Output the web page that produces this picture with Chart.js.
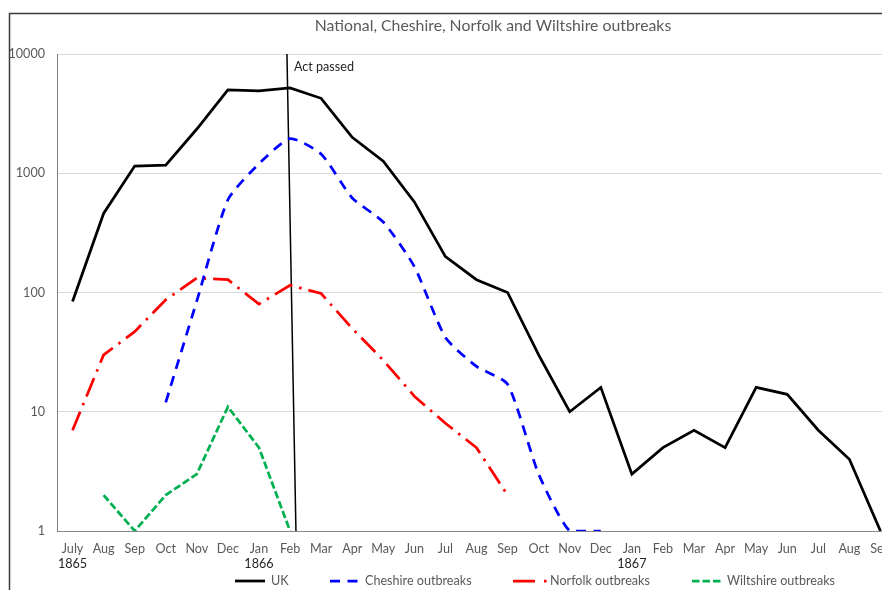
<!DOCTYPE html>
<html><head><meta charset="utf-8">
<script src="https://cdn.jsdelivr.net/npm/chart.js@4.4.1/dist/chart.umd.min.js"></script>
<style>
html,body{margin:0;padding:0;overflow:hidden;background:#fff;width:882px;height:590px}
#wrap{position:absolute;left:0;top:0;width:910px;height:590px}
</style></head><body>
<div id="wrap"><canvas id="c" width="910" height="590"></canvas></div>
<script>
// ---- data ----
const months = ['July','Aug','Sep','Oct','Nov','Dec','Jan','Feb','Mar','Apr','May','Jun','Jul','Aug','Sep','Oct','Nov','Dec','Jan','Feb','Mar','Apr','May','Jun','Jul','Aug','Sep'];
const years = ['1865','','','','','','1866','','','','','','','','','','','','1867','','','','','','','',''];
const ukValues = [84,460,1150,1170,2350,5000,4900,5200,4250,2000,1260,575,200,128,100,30,10,16,3,5,7,5,16,14,7,4,1];
const cheshireValues = [null,null,null,12,85,600,1200,1950,1450,620,390,165,42,24,17,3,1,1,null,null,null,null,null,null,null,null,null];
const norfolkValues = [7,30,47,87,132,128,80,115,98,50,27,13.5,8,5,2,null,null,null,null,null,null,null,null,null,null,null,null];
const wiltshireValues = [null,2,1,2,3,11,5,1,null,null,null,null,null,null,null,null,null,null,null,null,null,null,null,null,null,null,null];
const actLine = [{x:6.9,y:10000},{x:7.19,y:1}];
const yTicks = [1,10,100,1000,10000];
const seriesNames = ['UK','Cheshire outbreaks','Norfolk outbreaks','Wiltshire outbreaks'];
const titleText = 'National, Cheshire, Norfolk and Wiltshire outbreaks';
const actLabel = 'Act passed';

const FONT = 'Lato';
const GRAY = '#595959';
const FS = 12.6;

const extras = {
  id: 'extras',
  afterDraw(chart) {
    const ctx = chart.ctx;
    ctx.save();
    // outer frame
    ctx.strokeStyle = '#3a3a3a';
    ctx.lineWidth = 1.5;
    ctx.strokeRect(9.5, 13.5, 1000, 700);
    // title
    ctx.fillStyle = GRAY;
    ctx.font = '15.8px ' + FONT;
    ctx.textAlign = 'center';
    ctx.textBaseline = 'middle';
    ctx.fillText(titleText, 493, 26);
    // act label
    const xa = chart.scales.xAct;
    ctx.fillStyle = '#262626';
    ctx.font = FS + 'px ' + FONT;
    ctx.textAlign = 'left';
    ctx.fillText(actLabel, xa.getPixelForValue(actLine[0].x) + 7, 67);
    // legend
    const sx = [235, 330, 513, 692];
    const sw = [30, 28, 34, 30];
    const tx = [271, 365, 550, 727];
    const ly = 581;
    for (let i = 0; i < 4; i++) {
      const ds = chart.data.datasets[i];
      ctx.strokeStyle = ds.borderColor;
      ctx.lineWidth = ds.borderWidth;
      ctx.setLineDash(i === 2 ? [22, 9, 2.5, 9] : (ds.borderDash || []));
      ctx.beginPath();
      ctx.moveTo(sx[i], ly);
      ctx.lineTo(sx[i] + sw[i], ly);
      ctx.stroke();
      ctx.setLineDash([]);
      ctx.fillStyle = GRAY;
      ctx.font = FS + 'px ' + FONT;
      ctx.textAlign = 'left';
      ctx.textBaseline = 'middle';
      ctx.fillText(ds.label, tx[i], ly);
    }
    ctx.restore();
  }
};

new Chart(document.getElementById('c'), {
  type: 'line',
  data: {
    labels: months,
    datasets: [
      {label: seriesNames[0], data: ukValues, borderColor: '#000000', borderWidth: 2.75, pointRadius: 0, tension: 0},
      {label: seriesNames[1], data: cheshireValues, borderColor: '#0000ff', borderWidth: 2.75, borderDash: [10, 7.5], pointRadius: 0, tension: 0.2},
      {label: seriesNames[2], data: norfolkValues, borderColor: '#ff0000', borderWidth: 2.75, borderDash: [20, 7, 2.5, 7], pointRadius: 0, tension: 0},
      {label: seriesNames[3], data: wiltshireValues, borderColor: '#00b050', borderWidth: 2.75, borderDash: [7.5, 3], pointRadius: 0, tension: 0},
      {label: actLabel, data: actLine, xAxisID: 'xAct', borderColor: '#000000', borderWidth: 1.5, pointRadius: 0, tension: 0}
    ]
  },
  options: {
    responsive: false,
    animation: false,
    layout: {padding: {top: 54, right: 14, bottom: 0, left: 0}},
    plugins: {legend: {display: false}, title: {display: false}, tooltip: {enabled: false}},
    scales: {
      x: {
        type: 'category', labels: months, offset: true, position: 'bottom',
        grid: {display: false, drawTicks: false},
        border: {display: true, color: '#898989', width: 1},
        ticks: {color: GRAY, font: {family: FONT, size: FS}, padding: 10, maxRotation: 0, autoSkip: false},
        afterFit(s) { s.height = 24; }
      },
      x2: {
        type: 'category', labels: years, offset: true, position: 'bottom',
        grid: {display: false, drawTicks: false},
        border: {display: false},
        ticks: {color: '#262626', font: {family: FONT, size: FS}, padding: 1, maxRotation: 0, autoSkip: false},
        afterFit(s) { s.height = 35; }
      },
      xAct: {type: 'linear', min: -0.5, max: 26.5, display: false},
      y: {
        type: 'logarithmic', min: 1, max: 10000,
        afterBuildTicks(s) { s.ticks = yTicks.map(v => ({value: v})); },
        grid: {color: '#d9d9d9', drawTicks: false},
        border: {display: true, color: '#7f7f7f', width: 1},
        ticks: {color: GRAY, font: {family: FONT, size: FS}, padding: 12, callback: v => String(v)},
        afterFit(s) { s.width = 57; }
      }
    }
  },
  plugins: [extras]
});
</script>
</body></html>
